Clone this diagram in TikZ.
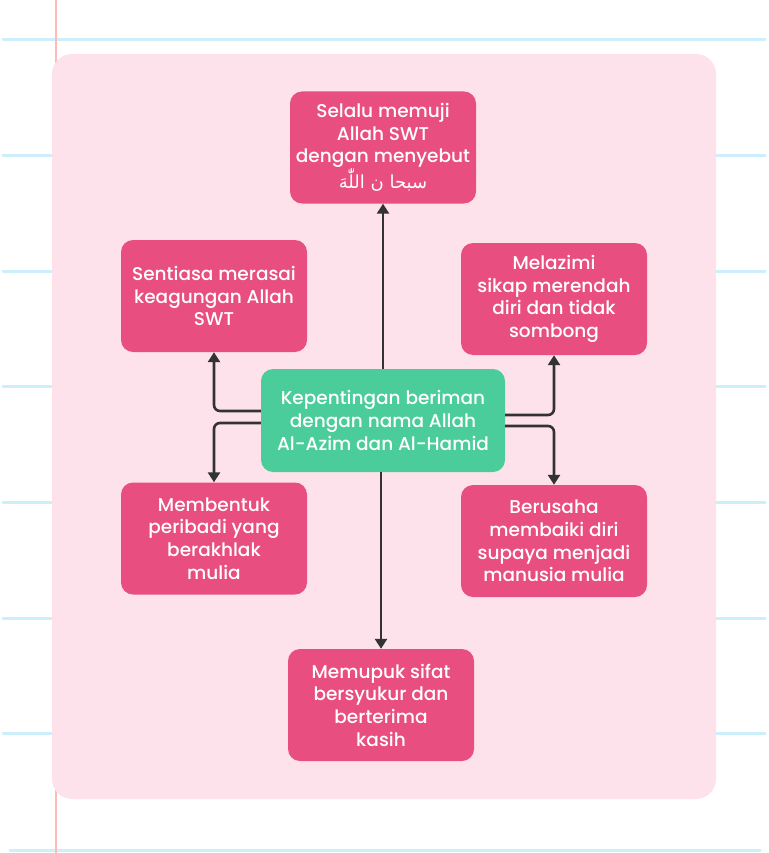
\documentclass[tikz,border=0pt]{standalone}
\usepackage{fontspec}
\setmainfont{Poppins}[UprightFont=* Medium]
\newfontfamily\arabicfont[Script=Arabic]{DejaVu Sans}
\TeXXeTstate=1
\usetikzlibrary{arrows.meta}
\definecolor{panelpink}{HTML}{FEE2EB}
\definecolor{boxpink}{HTML}{E84F80}
\definecolor{boxgreen}{HTML}{4ACD9B}
\definecolor{linegray}{HTML}{333333}
\definecolor{ruleblue}{HTML}{CDEFFC}
\definecolor{rulered}{HTML}{FFB8B8}
\tikzset{
  pinkbox/.style={fill=boxpink, rounded corners=12pt, text=white, align=center,
    minimum width=186pt, minimum height=112pt, inner sep=1pt,
    font=\fontsize{18.5}{22.7}\selectfont},
  greenbox/.style={fill=boxgreen, rounded corners=12pt, text=white, align=center,
    minimum width=244pt, minimum height=103pt, inner sep=1pt,
    font=\fontsize{18.5}{22.7}\selectfont},
  conn/.style={draw=linegray, line width=2.6pt, rounded corners=6pt,
    -{Triangle[length=10pt,width=12pt]}},
  bluerule/.style={draw=ruleblue, line width=3pt, line cap=round},
}
\begin{document}
\begin{tikzpicture}[x=1pt,y=-1pt]
\useasboundingbox (0,0) rectangle (768,853);
\fill[white] (0,0) rectangle (768,853);
% notebook rules
\foreach \yy in {40,155.5,271,386.5,502,618,733.5}{
  \draw[bluerule] (3,\yy) -- (765,\yy);
}
\draw[bluerule] (10,850) -- (760,850);
\draw[draw=rulered, line width=2pt] (56,0) -- (56,853);
% panel
\fill[panelpink, rounded corners=20pt] (52,54) rectangle (716,799);
% nodes
\node[pinkbox] (top) at (383,147.5) {Selalu memuji\\Allah SWT\\dengan menyebut\\{\arabicfont\fontsize{18}{22}\selectfont\beginR سبحا ن اللّٰهَ\endR}};
\node[pinkbox] (lu) at (214,296) {Sentiasa merasai\\keagungan Allah\\SWT};
\node[pinkbox] (ru) at (554,299) {Melazimi\\sikap merendah\\diri dan tidak\\sombong};
\node[greenbox] (cen) at (383,420.5) {Kepentingan beriman\\dengan nama Allah\\Al-Azim dan Al-Hamid};
\node[pinkbox] (ll) at (214,538.5) {Membentuk\\peribadi yang\\berakhlak\\mulia};
\node[pinkbox] (rl) at (554,541) {Berusaha\\membaiki diri\\supaya menjadi\\manusia mulia};
\node[pinkbox] (bot) at (381,705) {Memupuk sifat\\bersyukur dan\\berterima\\kasih};
% connectors
\draw[conn] (cen.north) -- (top.south);
\draw[conn] (cen.south -| bot.north) -- (bot.north);
\draw[conn] ([yshift=9.5pt]cen.west) -| (lu.south);
\draw[conn] ([yshift=-2.5pt]cen.west) -| (ll.north);
\draw[conn] ([yshift=5.5pt]cen.east) -| (ru.south);
\draw[conn] ([yshift=-5.5pt]cen.east) -| (rl.north);
\end{tikzpicture}
\end{document}
